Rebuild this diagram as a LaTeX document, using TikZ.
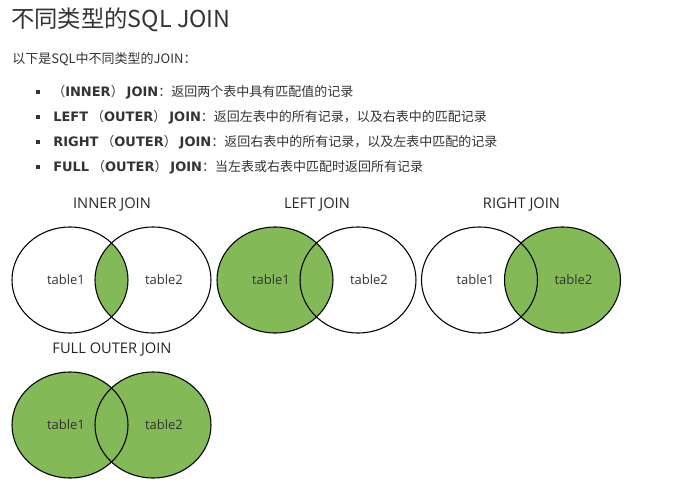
\documentclass[tikz,border=0pt]{standalone}
\usepackage{fontspec}
\setmainfont{Noto Sans CJK SC}
\newfontfamily\verd{DejaVu Sans}
\newfontfamily\venntext{Open Sans}
\definecolor{joingreen}{HTML}{83B957}
\definecolor{bodytext}{HTML}{333333}
\newcommand{\kw}[1]{{\verd\bfseries #1}}
% a pair of ellipses with its title and labels
% #1 x of left centre, #2 y of centre, #3 name prefix, #4 title
\newcommand{\vennpair}[4]{
\draw[vennline] (#1,#2) ellipse (58 and 53);
\draw[vennline] (#1+83,#2) ellipse (58 and 53);
\node[jointitle] (#3title) at (#1+42,#2-75) {#4};
\node[tablelabel] (#3one) at (#1-4,#2) {table1};
\node[tablelabel] (#3two) at (#1+94,#2) {table2};}
\tikzset{
  vennline/.style={line width=0.8pt, black},
  jointitle/.style={font=\venntext\fontsize{11}{13}\selectfont, text=black!85, inner sep=0pt},
  tablelabel/.style={font=\venntext\fontsize{9.75}{12}\selectfont, text=black!80, inner sep=0pt},
  pagetitle/.style={font=\fontsize{17.5}{20}\selectfont, text=bodytext, anchor=west, inner sep=0pt},
  bodyline/.style={font=\fontsize{9.75}{12}\selectfont, text=bodytext, anchor=west, inner sep=0pt}
}
\begin{document}
\begin{tikzpicture}[x=0.75pt,y=-0.75pt]
\useasboundingbox (0,0) rectangle (679,492);

\node[pagetitle] (heading) at (11,20) {不同类型的SQL JOIN};
\node[bodyline] (intro) at (12,59) {以下是SQL中不同类型的JOIN：};

% bullets
\foreach \y in {92,117,142,167}{
	\fill[bodytext] (36,\y-2) rectangle ++(4,4);
}
\node[bodyline] (item1) at (52,92) {（\kw{INNER}） \kw{JOIN}：返回两个表中具有匹配值的记录};
\node[bodyline] (item2) at (53,117) {\kw{LEFT} （\kw{OUTER}） \kw{JOIN}：返回左表中的所有记录，以及右表中的匹配记录};
\node[bodyline] (item3) at (53,142) {\kw{RIGHT} （\kw{OUTER}） \kw{JOIN}：返回右表中的所有记录，以及左表中匹配的记录};
\node[bodyline] (item4) at (53,167) {\kw{FULL} （\kw{OUTER}） \kw{JOIN}：当左表或右表中匹配时返回所有记录};

% green areas
\begin{scope}
\clip (70,280) ellipse (58 and 53);
\fill[joingreen] (153,280) ellipse (58 and 53);
\end{scope}
\fill[joingreen] (275,280) ellipse (58 and 53);
\fill[joingreen] (562.5,280) ellipse (58 and 53);
\fill[joingreen] (70,425) ellipse (58 and 53);
\fill[joingreen] (153,425) ellipse (58 and 53);

\vennpair{70}{280}{inner}{INNER JOIN}
\vennpair{275}{280}{left}{LEFT JOIN}
\vennpair{479.5}{280}{right}{RIGHT JOIN}
\vennpair{70}{425}{full}{FULL OUTER JOIN}

\end{tikzpicture}
\end{document}
